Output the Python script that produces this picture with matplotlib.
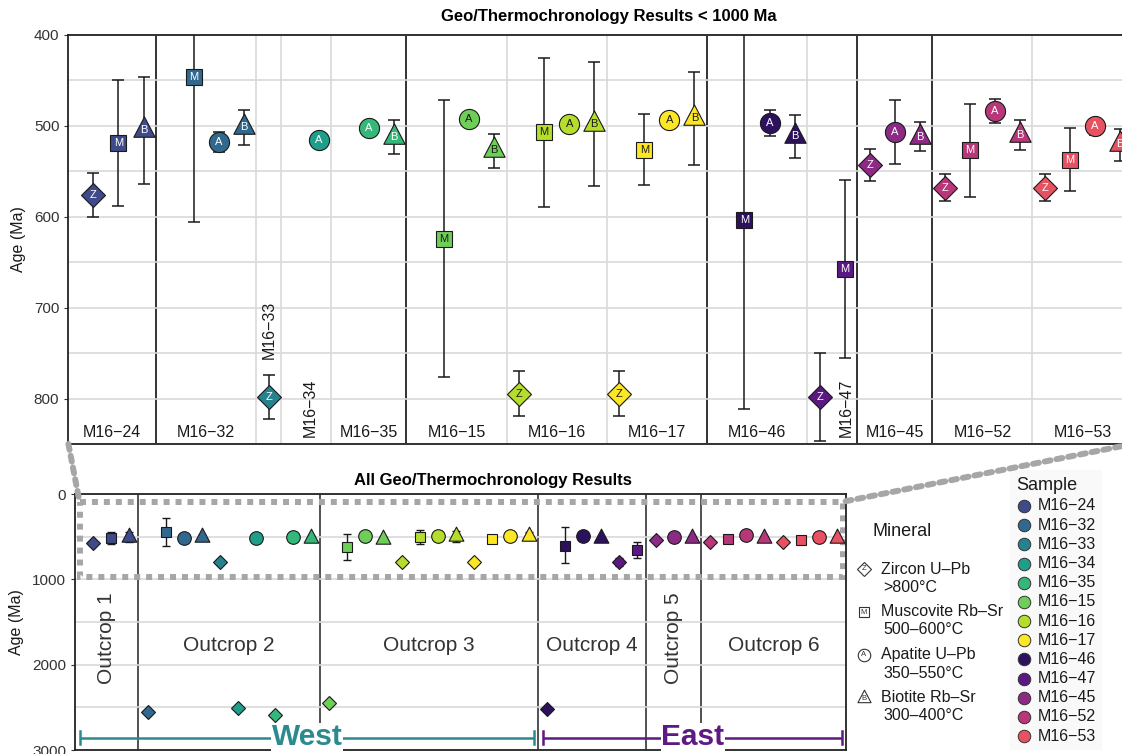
import numpy as np
import matplotlib.pyplot as plt
from matplotlib.path import Path
from matplotlib.patches import ConnectionPatch, Rectangle

plt.rcParams['font.family'] = ['Liberation Sans', 'DejaVu Sans']

# samples, west to east
samples = ["M16\u221224", "M16\u221232", "M16\u221233", "M16\u221234", "M16\u221235",
           "M16\u221215", "M16\u221216", "M16\u221217", "M16\u221246", "M16\u221247",
           "M16\u221245", "M16\u221252", "M16\u221253"]
sample_colors = ["#3e4a89", "#31688e", "#26828e", "#1f9e89", "#35b779", "#6ece58",
                 "#b5de2b", "#fde725", "#2c115f", "#5a1883", "#8c2a85", "#b73779",
                 "#e75263"]
sample_outcrop = [1, 2, 2, 2, 2, 3, 3, 3, 4, 4, 5, 6, 6]

outcrop_names = ["Outcrop 1", "Outcrop 2", "Outcrop 3", "Outcrop 4", "Outcrop 5", "Outcrop 6"]
region_names = ["West", "East"]
region_outcrops = [[1, 2, 3], [4, 5, 6]]
region_colors = ["#2a8a8e", "#5e1a82"]

minerals = ["Z", "M", "A", "B"]
mineral_names = ["Zircon U\u2013Pb", "Muscovite Rb\u2013Sr", "Apatite U\u2013Pb", "Biotite Rb\u2013Sr"]
mineral_temps = [">800\u00b0C", "500\u2013600\u00b0C", "350\u2013550\u00b0C", "300\u2013400\u00b0C"]

# one entry per age (Ma), in plotting order
pt_sample = ([0] * 3 + [1] * 4 + [2] + [3] * 2 + [4] * 3 + [5] * 4 + [6] * 4 + [7] * 4
             + [8] * 4 + [9] * 2 + [10] * 3 + [11] * 4 + [12] * 4)
pt_mineral = (["Z", "M", "B"] + ["Z", "M", "A", "B"] + ["Z"] + ["Z", "A"] + ["Z", "A", "B"]
              + ["Z", "M", "A", "B"] * 4 + ["Z", "M"] + ["Z", "A", "B"] + ["Z", "M", "A", "B"] * 2)
pt_age = [576, 519, 505,
          2552, 446, 518, 501,
          798,
          2512, 516,
          2591, 502, 512,
          2454, 624, 492, 527,
          795, 507, 498, 498,
          795, 526, 494, 491,
          2521, 604, 497, 511,
          798, 657,
          543, 507, 512,
          568, 527, 484, 510,
          568, 537, 500, 520]
pt_lo = [552, 450, 446,
         2530, 280, 507, 482,
         774,
         2490, 510,
         2570, 497, 494,
         2430, 472, 487, 509,
         770, 425, 493, 430,
         770, 487, 489, 441,
         2500, 385, 482, 488,
         750, 560,
         525, 472, 496,
         553, 476, 470, 494,
         553, 502, 492, 503]
pt_hi = [600, 588, 564,
         2575, 606, 529, 521,
         822,
         2535, 522,
         2612, 507, 531,
         2478, 776, 497, 546,
         819, 589, 503, 566,
         819, 565, 499, 543,
         2543, 812, 511, 535,
         847, 755,
         561, 542, 528,
         583, 578, 497, 527,
         583, 572, 510, 539]

W, H = 1122, 754
fig = plt.figure(figsize=(W / 100, H / 100), dpi=100)

x = np.arange(len(pt_age))
age = np.array(pt_age, dtype=float)
lo = np.array(pt_lo, dtype=float)
hi = np.array(pt_hi, dtype=float)
XMIN, XMAX = -1, len(x) - 0.5

tri = Path([(0, 1.08), (-0.85, -0.54), (0.85, -0.54), (0, 1.08)],
           [Path.MOVETO, Path.LINETO, Path.LINETO, Path.CLOSEPOLY])
marker_of = {"Z": "D", "M": "s", "A": "o", "B": tri}


def text_color(c):
    r, g, b = [int(c[k:k + 2], 16) / 255 for k in (1, 3, 5)]
    return "#1a1a1a" if 0.2126 * r + 0.7152 * g + 0.0722 * b > 0.65 else "white"


# sample / outcrop spans along x
sample_first = {}
sample_last = {}
for i, s in enumerate(pt_sample):
    sample_first.setdefault(s, i)
    sample_last[s] = i
bounds = []
for i in range(1, len(pt_sample)):
    if pt_sample[i] != pt_sample[i - 1]:
        thick = sample_outcrop[pt_sample[i]] != sample_outcrop[pt_sample[i - 1]]
        bounds.append((i - 0.5, thick))


def span(first, last):
    a = XMIN if first == 0 else first - 0.5
    b = XMAX if last == len(x) - 1 else last + 0.5
    return a, b


def draw_points(ax, sizes, capsize, lw, letters):
    for i in range(len(x)):
        col = sample_colors[pt_sample[i]]
        m = pt_mineral[i]
        ax.errorbar(x[i], age[i], yerr=[[age[i] - lo[i]], [hi[i] - age[i]]], fmt='none',
                    ecolor='#1a1a1a', elinewidth=lw, capsize=capsize, capthick=lw, zorder=3)
        ax.plot(x[i], age[i], marker=marker_of[m], ms=sizes[m], mfc=col, mec='#1a1a1a',
                mew=0.8, ls='none', zorder=4)
        if letters and age[i] < ax.get_ylim()[0]:
            ax.text(x[i], age[i], m, ha='center', va='center', fontsize=8,
                    color=text_color(col), zorder=5)


# ---------------- top panel ----------------
ax = fig.add_axes([68.4 / W, 1 - 444 / H, (1132.6 - 68.4) / W, (444 - 35) / H])
ax.set_xlim(XMIN, XMAX)
ax.set_ylim(850, 400)
ax.set_yticks([400, 500, 600, 700, 800])
ax.set_yticks(np.arange(450, 851, 100), minor=True)
ax.yaxis.grid(True, which='both', color='#d9d9d9', lw=1.2, zorder=0)
ax.tick_params(axis='y', which='major', labelsize=11, length=3, color='#333333', labelcolor='#333333')
ax.tick_params(axis='y', which='minor', length=0)
ax.set_xticks([])
ax.set_ylabel("Age (Ma)", fontsize=11.5, color='#1a1a1a', labelpad=6)
for sp in ax.spines.values():
    sp.set_linewidth(1.3)
    sp.set_color('#222222')
for b, thick in bounds:
    if thick:
        ax.axvline(b, color='#222222', lw=1.3, zorder=1)
    else:
        ax.axvline(b, color='#d9d9d9', lw=1.2, zorder=0)
draw_points(ax, {"Z": 12.5, "M": 12, "A": 14.5, "B": 19.5}, 4.2, 1.1, True)

rotated_labels = {2: (7.02, 757), 3: (8.65, 842), 9: (30.05, 842)}
for s in range(len(samples)):
    a, b = span(sample_first[s], sample_last[s])
    if s in rotated_labels:
        px, py = rotated_labels[s]
        ax.text(px, py, samples[s], rotation=90, ha='center', va='bottom', fontsize=11.5,
                color='#1a1a1a')
    else:
        ax.text((a + b) / 2, 837, samples[s], ha='center', va='center', fontsize=11.5,
                color='#1a1a1a')

fig.text(609 / W, 1 - 17 / H, "Geo/Thermochronology Results < 1000 Ma", ha='center',
         va='center', fontsize=12, fontweight='bold')

# ---------------- bottom panel ----------------
bx = fig.add_axes([75 / W, 1 - 750 / H, (846 - 75) / W, (750 - 494) / H])
bx.set_xlim(XMIN, XMAX)
bx.set_ylim(3000, 0)
bx.set_yticks([0, 1000, 2000, 3000])
bx.set_yticks([500, 1500, 2500], minor=True)
bx.yaxis.grid(True, which='both', color='#d9d9d9', lw=1.2, zorder=0)
bx.tick_params(axis='y', which='major', labelsize=11, length=3, color='#333333', labelcolor='#333333')
bx.tick_params(axis='y', which='minor', length=0)
bx.set_xticks([])
bx.set_ylabel("Age (Ma)", fontsize=11.5, color='#1a1a1a', labelpad=6)
for sp in bx.spines.values():
    sp.set_linewidth(1.3)
    sp.set_color('#222222')
for b, thick in bounds:
    if thick:
        bx.axvline(b, color='#222222', lw=1.1, zorder=1)
draw_points(bx, {"Z": 7.5, "M": 7.8, "A": 9.8, "B": 13.5}, 3, 1.0, False)

# outcrop labels
for k, name in enumerate(outcrop_names):
    idx = [i for i in range(len(x)) if sample_outcrop[pt_sample[i]] == k + 1]
    a, b = span(idx[0], idx[-1])
    if b - a < 5:
        bx.text((a + b) / 2, 1690, name, rotation=90, ha='center', va='center', fontsize=15,
                color='#333333')
    else:
        bx.text((a + b) / 2, 1780, name, ha='center', va='center', fontsize=15,
                color='#333333')

# West / East brackets
for name, outs, col in zip(region_names, region_outcrops, region_colors):
    idx = [i for i in range(len(x)) if sample_outcrop[pt_sample[i]] in outs]
    a, b = span(idx[0], idx[-1])
    a, b = a + 0.3, b - 0.2
    yb = 2857
    bx.plot([a, b], [yb, yb], color=col, lw=1.8, zorder=3.3, solid_capstyle='butt')
    bx.plot([a, a], [yb - 75, yb + 75], color=col, lw=1.8, zorder=3.3)
    bx.plot([b, b], [yb - 75, yb + 75], color=col, lw=1.8, zorder=3.3)
    bx.text((a + b) / 2, 2850, name, ha='center', va='center', fontsize=21.5, fontweight='bold',
            color=col, zorder=3.5, bbox=dict(facecolor='white', edgecolor='none', pad=0.5))

# zoom box and connectors
zx0, zx1, zy0, zy1 = -0.75, 41.35, 90, 970
bx.add_patch(Rectangle((zx0, zy0), zx1 - zx0, zy1 - zy0, fill=False, edgecolor='#a6a6a6',
                       lw=4.3, ls=(0, (1, 1)), zorder=2, clip_on=False))
for xa, xb in [(0, zx0), (1, zx1)]:
    con = ConnectionPatch(xyA=(xa, 0), coordsA=ax.transAxes, xyB=(xb, zy0), coordsB=bx.transData,
                          color='#a6a6a6', lw=4.3, ls=(0, (1, 1)))
    fig.add_artist(con)

fig.text(493 / W, 1 - 480 / H, "All Geo/Thermochronology Results", ha='center', va='center',
         fontsize=12, fontweight='bold')

# ---------------- legends (pixel overlay) ----------------
lax = fig.add_axes([0, 0, 1, 1])
lax.set_xlim(0, W)
lax.set_ylim(H, 0)
lax.axis('off')

lax.text(873, 532, "Mineral", ha='left', va='center', fontsize=13, color='#1a1a1a')
icon_size = {"Z": 7.5, "M": 7.2, "A": 9, "B": 12}
for k, m in enumerate(minerals):
    y0 = 569 + 43 * k
    lax.plot(864, y0, marker=marker_of[m], ms=icon_size[m], mfc='white', mec='#333333', mew=0.8)
    lax.text(864, y0 + (1 if m == "B" else 0), m, ha='center', va='center', fontsize=5.5, color='#333333')
    lax.text(881, y0, mineral_names[k], ha='left', va='center', fontsize=11.5, color='#1a1a1a')
    lax.text(883, y0 + 18, mineral_temps[k], ha='left', va='center', fontsize=11.5, color='#1a1a1a')

lax.add_patch(Rectangle((1010, 470), 92, 280, facecolor='#f9f9f9', edgecolor='none', zorder=0))
lax.text(1016, 486, "Sample", ha='left', va='center', fontsize=13, color='#1a1a1a')
for k, s in enumerate(samples):
    y0 = 506 + 19.17 * k
    lax.plot(1024, y0, marker='o', ms=9, mfc=sample_colors[k], mec='#333333', mew=0.7)
    lax.text(1038, y0, s, ha='left', va='center', fontsize=11.5, color='#1a1a1a')

fig.savefig("out.png", dpi=100)
